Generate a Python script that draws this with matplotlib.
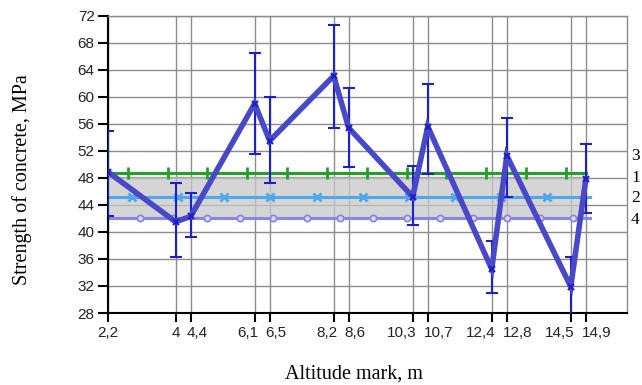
import numpy as np
import matplotlib
matplotlib.use("Agg")
import matplotlib.pyplot as plt
from matplotlib.transforms import ScaledTranslation

# ---- data ----
altitude = [2.2, 4, 4.4, 6.1, 6.5, 8.2, 8.6, 10.3, 10.7, 12.4, 12.8, 14.5, 14.9]
tick_labels = ["2,2", "4", "4,4", "6,1", "6,5", "8,2", "8,6", "10,3", "10,7",
               "12,4", "12,8", "14,5", "14,9"]
strength = [48.9, 41.5, 42.3, 59.0, 53.5, 63.1, 55.4, 45.2, 55.6, 34.5, 51.3, 31.9, 47.8]
err_upper = [55.0, 47.3, 45.8, 66.5, 60.0, 70.6, 61.3, 49.8, 61.9, 38.6, 56.8, 36.3, 53.0]
err_lower = [42.3, 36.3, 39.3, 51.5, 47.3, 55.4, 49.6, 41.1, 48.6, 30.9, 45.2, 27.5, 42.8]

level_3 = 48.8   # green
level_1 = 48.1   # upper edge of band
level_2 = 45.2   # light blue
level_4 = 42.1   # circles
level_labels = ["3", "1", "2", "4"]
label_values = [51.3, 48.0, 45.0, 41.7]

yticks = list(range(28, 73, 4))

# ---- figure ----
fig = plt.figure(figsize=(6.42, 3.85), dpi=100)
ax = fig.add_axes([0.168, 0.187, 0.809, 0.772])

x0, x1 = altitude[0], altitude[-1]
ax.set_xlim(2.2, 16)
ax.set_ylim(28, 72)

# grid
for t in yticks:
    ax.axhline(t, color="#8c8c8c", lw=1.0, zorder=0.5)
for t in altitude:
    ax.axvline(t, color="#8c8c8c", lw=1.0, zorder=0.5)

# band between lines 4 and 1
ax.fill_between([x0, x1], [level_4, level_4], [level_1, level_1],
                color="#c8c8c8", alpha=0.75, lw=0, zorder=1)
ax.plot([x0, x1], [level_1, level_1], color="#a8a8a8", lw=1.0, zorder=1.2)

# level 4 - circles
ax.plot([x0, x1 + 0.1], [level_4, level_4], color="#8a86e6", lw=2.2, zorder=2)
m4 = np.arange(3.05, x1, 0.886)
ax.plot(m4, np.full_like(m4, level_4), ls="none", marker="o", ms=4.5,
        mfc="#dcdcf5", mec="#8a86e6", mew=1.3, zorder=2.1)

# level 2 - light blue x
ax.plot([x0, x1 + 0.1], [level_2, level_2], color="#4fa8ea", lw=2.2, zorder=2)
m2 = np.arange(2.84, x1 - 0.5, 1.226)
ax.plot(m2, np.full_like(m2, level_2), ls="none", marker="x", ms=6,
        mec="#4fa8ea", mew=2.0, zorder=2.1)

# level 3 - green
ax.plot([x0, x1], [level_3, level_3], color="#22a02a", lw=2.2, zorder=2)
m3 = x0 + (np.arange(12) + 0.5) * (x1 - x0) / 12
ax.plot(m3, np.full_like(m3, level_3), ls="none", marker="|", ms=9,
        mec="#22a02a", mew=2.0, zorder=2.1)

# main series
s = np.array(strength)
yerr = [s - np.array(err_lower), np.array(err_upper) - s]
ax.errorbar(altitude, strength, yerr=yerr, fmt="none", ecolor="#1f1fc8",
            elinewidth=1.5, capsize=4, capthick=1.5, zorder=3)
ax.plot(altitude, strength, color="#4848c8", lw=4, solid_joinstyle="miter",
        zorder=4)
ax.plot(altitude, strength, ls="none", marker="x", ms=5, mec="#1f1fc8",
        mew=1.5, zorder=5)

# right-side labels
for lab, v in zip(level_labels, label_values):
    ax.text(16.1, v, lab, fontsize=12.5, family="Liberation Serif",
            va="center", ha="left", clip_on=False)

# axes styling
ax.set_xticks(altitude)
ax.set_xticklabels(tick_labels, fontsize=11, family="Liberation Sans",
                   color="#222222")
ax.set_yticks(yticks)
ax.set_yticklabels([str(t) for t in yticks], fontsize=11,
                   family="Liberation Sans", color="#222222")
ax.tick_params(axis="y", direction="out", length=7.5, width=1.5, color="black",
               pad=2)
ax.tick_params(axis="x", direction="out", length=6.5, width=1.5, color="black",
               pad=3)
for side in ["left", "bottom"]:
    ax.spines[side].set_color("black")
    ax.spines[side].set_linewidth(1.5)
for side in ["right", "top"]:
    ax.spines[side].set_color("#8c8c8c")
    ax.spines[side].set_linewidth(1.0)

# close tick-label pairs: first right-aligned, second left-aligned
shift = 3 / 72
for i, lab in enumerate(ax.get_xticklabels()):
    if i >= 3 and i % 2 == 1:
        lab.set_ha("right")
        lab.set_transform(lab.get_transform() +
                          ScaledTranslation(shift, 0, fig.dpi_scale_trans))
    elif i >= 2 and i % 2 == 0:
        lab.set_ha("left")
        lab.set_transform(lab.get_transform() +
                          ScaledTranslation(-shift, 0, fig.dpi_scale_trans))

ax.set_ylabel("Strength of concrete, MPa", fontsize=14.5,
              family="Liberation Serif")
ax.yaxis.set_label_coords(-0.146, 0.448)
ax.set_xlabel("Altitude mark, m", fontsize=14.5, family="Liberation Serif")
ax.xaxis.set_label_coords(0.474, -0.172)

fig.savefig("out.png", dpi=100)
